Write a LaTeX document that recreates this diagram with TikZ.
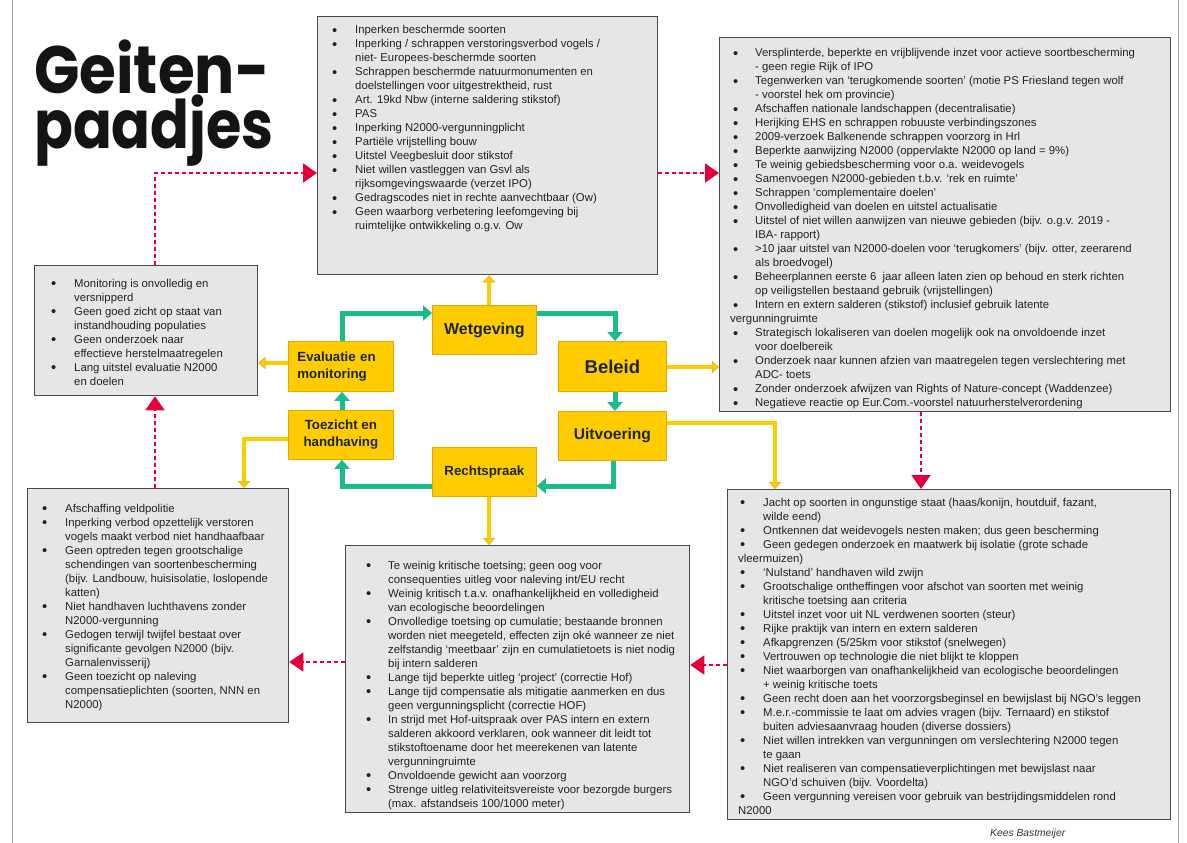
\documentclass[tikz,border=0pt]{standalone}
\usepackage{fontspec}
\setmainfont{Liberation Sans}
\newfontfamily\titlefont{Poppins}
\usetikzlibrary{arrows.meta}
\definecolor{ycol}{HTML}{FFCC00}
\definecolor{ydark}{HTML}{E3A900}
\definecolor{gcol}{HTML}{1ABC8C}
\definecolor{rcol}{HTML}{E5003C}
\definecolor{boxfill}{HTML}{E6E6E6}
\definecolor{boxline}{HTML}{4A4A4A}
\definecolor{txt}{HTML}{222222}
\definecolor{ytxt}{HTML}{1E2530}
\newlength\tind
\newcommand\bul[1]{\par\noindent\hangindent=\tind\hangafter=1\makebox[\tind][l]{\raisebox{-0.25ex}{\scalebox{1.3}{\textbullet}}}#1}
\newcommand\bulw[3]{\bul{#1}\par\noindent\hspace*{#3}#2}
\newcommand\boxtext[3]{\parbox[t]{#1}{\setlength\tind{#2}\raggedright\let\\\newline\setlength\parskip{0pt}\fontsize{11.35}{14}\selectfont#3}}
\tikzset{
  gbox/.style={draw=boxline, fill=boxfill, line width=1.3pt, inner sep=0pt, anchor=north west},
  btext/.style={anchor=base west, inner sep=0pt, text=txt},
  ybox/.style={draw=ydark, fill=ycol, line width=0.8pt, inner sep=0pt, anchor=north west, text=ytxt, font=\bfseries, align=center},
  yarr/.style={draw=ydark, line width=0.5pt, double=ycol, double distance=3.6pt, -{Triangle[width=12pt,length=7pt,fill=ycol]}},
  garr/.style={draw=gcol, line width=5pt, line join=miter, -{Triangle[width=15pt,length=9pt]}},
  rarr/.style={draw=rcol, line width=1.8pt, dash pattern=on 4pt off 3pt, -{Triangle[width=19pt,length=14pt]}},
  ttl/.style={anchor=base west, inner sep=0pt, text=black!92, font=\titlefont\bfseries\fontsize{67}{53}\selectfont}
}
\begin{document}
\begin{tikzpicture}[x=1pt,y=-1pt]
\path[use as bounding box] (0,0) rectangle (1187,843);
\fill[white] (0,0) rectangle (1187,843);
\draw[gray!70, line width=1pt] (12,0) -- (12,843);
\draw[gray!70, line width=1pt] (1178,0) -- (1178,843);

% title
\node[ttl] (title) at (34,93) {\parbox[t]{300pt}{\scalebox{0.89}[1]{Geiten-}\\\scalebox{0.855}[1]{paadjes}}};

% gray boxes
\node[gbox, minimum width=340pt, minimum height=258pt] (law) at (317,16) {};
\node[gbox, minimum width=451pt, minimum height=374pt] (pol) at (719,37) {};
\node[gbox, minimum width=223pt, minimum height=130pt] (mon) at (34,265) {};
\node[gbox, minimum width=261pt, minimum height=234pt] (enf) at (27,488) {};
\node[gbox, minimum width=344pt, minimum height=267pt] (jud) at (345,545) {};
\node[gbox, minimum width=443pt, minimum height=330pt] (exe) at (727,489) {};

\node[btext] (lawt) at (332,34) {\boxtext{320pt}{23pt}{%
\bul{Inperken beschermde soorten}
\bul{Inperking / schrappen verstoringsverbod vogels /\\niet- Europees-beschermde soorten}
\bul{Schrappen beschermde natuurmonumenten en\\doelstellingen voor uitgestrektheid, rust}
\bul{Art. 19kd Nbw (interne saldering stikstof)}
\bul{PAS}
\bul{Inperking N2000-vergunningplicht}
\bul{Partiële vrijstelling bouw}
\bul{Uitstel Veegbesluit door stikstof}
\bul{Niet willen vastleggen van Gsvl als\\rijksomgevingswaarde (verzet IPO)}
\bul{Gedragscodes niet in rechte aanvechtbaar (Ow)}
\bul{Geen waarborg verbetering leefomgeving bij\\ruimtelijke ontwikkeling o.g.v. Ow}}};

\node[btext] (polt) at (733,57) {\boxtext{430pt}{22pt}{%
\bul{Versplinterde, beperkte en vrijblijvende inzet voor actieve soortbescherming\\- geen regie Rijk of IPO}
\bul{Tegenwerken van ‘terugkomende soorten’ (motie PS Friesland tegen wolf\\- voorstel hek om provincie)}
\bul{Afschaffen nationale landschappen (decentralisatie)}
\bul{Herijking EHS en schrappen robuuste verbindingszones}
\bul{2009-verzoek Balkenende schrappen voorzorg in Hrl}
\bul{Beperkte aanwijzing N2000 (oppervlakte N2000 op land = 9\%)}
\bul{Te weinig gebiedsbescherming voor o.a. weidevogels}
\bul{Samenvoegen N2000-gebieden t.b.v. ‘rek en ruimte’}
\bul{Schrappen ‘complementaire doelen’}
\bul{Onvolledigheid van doelen en uitstel actualisatie}
\bul{Uitstel of niet willen aanwijzen van nieuwe gebieden (bijv. o.g.v. 2019 -\\IBA- rapport)}
\bul{>10 jaar uitstel van N2000-doelen voor ‘terugkomers’ (bijv. otter, zeerarend\\als broedvogel)}
\bul{Beheerplannen eerste 6\ \ jaar alleen laten zien op behoud en sterk richten\\op veiligstellen bestaand gebruik (vrijstellingen)}
\bulw{Intern en extern salderen (stikstof) inclusief gebruik latente}{vergunningruimte}{-3pt}
\bul{Strategisch lokaliseren van doelen mogelijk ook na onvoldoende inzet\\voor doelbereik}
\bul{Onderzoek naar kunnen afzien van maatregelen tegen verslechtering met\\ADC- toets}
\bul{Zonder onderzoek afwijzen van Rights of Nature-concept (Waddenzee)}
\bul{Negatieve reactie op Eur.Com.-voorstel natuurherstelverordening}}};

\node[btext] (mont) at (51,287) {\boxtext{200pt}{23pt}{%
\bul{Monitoring is onvolledig en\\versnipperd}
\bul{Geen goed zicht op staat van\\instandhouding populaties}
\bul{Geen onderzoek naar\\effectieve herstelmaatregelen}
\bul{Lang uitstel evaluatie N2000\\en doelen}}};

\node[btext] (enft) at (42,512) {\boxtext{240pt}{23pt}{%
\bul{Afschaffing veldpolitie}
\bul{Inperking verbod opzettelijk verstoren\\vogels maakt verbod niet handhaafbaar}
\bul{Geen optreden tegen grootschalige\\schendingen van soortenbescherming\\(bijv. Landbouw, huisisolatie, loslopende\\katten)}
\bul{Niet handhaven luchthavens zonder\\N2000-vergunning}
\bul{Gedogen terwijl twijfel bestaat over\\significante gevolgen N2000 (bijv.\\Garnalenvisserij)}
\bul{Geen toezicht op naleving\\compensatieplichten (soorten, NNN en\\N2000)}}};

\node[btext] (judt) at (366,569) {\boxtext{320pt}{22pt}{%
\bul{Te weinig kritische toetsing; geen oog voor\\consequenties uitleg voor naleving int/EU recht}
\bul{Weinig kritisch t.a.v. onafhankelijkheid en volledigheid\\van ecologische beoordelingen}
\bul{Onvolledige toetsing op cumulatie; bestaande bronnen\\worden niet meegeteld, effecten zijn oké wanneer ze niet\\zelfstandig ‘meetbaar’ zijn en cumulatietoets is niet nodig\\bij intern salderen}
\bul{Lange tijd beperkte uitleg ‘project’ (correctie Hof)}
\bul{Lange tijd compensatie als mitigatie aanmerken en dus\\geen vergunningsplicht (correctie HOF)}
\bul{In strijd met Hof-uitspraak over PAS intern en extern\\salderen akkoord verklaren, ook wanneer dit leidt tot\\stikstoftoename door het meerekenen van latente\\vergunningruimte}
\bul{Onvoldoende gewicht aan voorzorg}
\bul{Strenge uitleg relativiteitsvereiste voor bezorgde burgers\\(max. afstandseis 100/1000 meter)}}};

\node[btext] (exet) at (740,506) {\boxtext{425pt}{23pt}{%
\bul{Jacht op soorten in ongunstige staat (haas/konijn, houtduif, fazant,\\wilde eend)}
\bul{Ontkennen dat weidevogels nesten maken; dus geen bescherming}
\bulw{Geen gedegen onderzoek en maatwerk bij isolatie (grote schade}{vleermuizen)}{-2pt}
\bul{‘Nulstand’ handhaven wild zwijn}
\bul{Grootschalige ontheffingen voor afschot van soorten met weinig\\kritische toetsing aan criteria}
\bul{Uitstel inzet voor uit NL verdwenen soorten (steur)}
\bul{Rijke praktijk van intern en extern salderen}
\bul{Afkapgrenzen (5/25km voor stikstof (snelwegen)}
\bul{Vertrouwen op technologie die niet blijkt te kloppen}
\bul{Niet waarborgen van onafhankelijkheid van ecologische beoordelingen\\+ weinig kritische toets}
\bul{Geen recht doen aan het voorzorgsbeginsel en bewijslast bij NGO’s leggen}
\bul{M.e.r.-commissie te laat om advies vragen (bijv. Ternaard) en stikstof\\buiten adviesaanvraag houden (diverse dossiers)}
\bul{Niet willen intrekken van vergunningen om verslechtering N2000 tegen\\te gaan}
\bul{Niet realiseren van compensatieverplichtingen met bewijslast naar\\NGO’d schuiven (bijv. Voordelta)}
\bulw{Geen vergunning vereisen voor gebruik van bestrijdingsmiddelen rond}{N2000}{-2pt}}};

% yellow boxes
\node[ybox, minimum width=104pt, minimum height=49pt, font=\bfseries\fontsize{16}{18}\selectfont] (wet) at (432,305) {Wetgeving};
\node[ybox, minimum width=108pt, minimum height=50pt, font=\bfseries\fontsize{18.5}{20}\selectfont] (bel) at (558,341) {Beleid};
\node[ybox, minimum width=108pt, minimum height=49pt, font=\bfseries\fontsize{15.6}{18}\selectfont] (uit) at (558,411) {Uitvoering};
\node[ybox, minimum width=104pt, minimum height=49pt, font=\bfseries\fontsize{13.3}{17}\selectfont] (rec) at (432,447) {Rechtspraak};
\node[ybox, minimum width=105pt, minimum height=50pt, text width=87pt, align=left, font=\bfseries\fontsize{13.3}{17}\selectfont] (eva) at (288,341) {Evaluatie en\\monitoring};
\node[ybox, minimum width=105pt, minimum height=49pt, font=\bfseries\fontsize{13.3}{17}\selectfont] (toe) at (288,410) {Toezicht en\\handhaving};

% green cycle
\coordinate (g1) at (342,313);
\coordinate (g2) at (615,313);
\coordinate (g3) at (613,486);
\draw[garr] (eva.north -| g1) |- (wet.west |- g1);
\draw[garr] (wet.east |- g2) -| (bel.north -| g2);
\draw[garr] (bel.south -| g2) -- (uit.north -| g2);
\draw[garr] (uit.south -| g3) |- (rec.east |- g3);
\draw[garr] (rec.west |- g3) -| (toe.south -| g1);
\draw[garr] (toe.north -| g1) -- (eva.south -| g1);

% yellow connectors
\coordinate (xy1) at (489,0);
\coordinate (yy1) at (0,363);
\coordinate (yy2) at (0,367);
\coordinate (yc1) at (244,439);
\coordinate (yc2) at (775,423);
\draw[yarr] (wet.north -| xy1) -- (law.south -| xy1);
\draw[yarr] (rec.south -| xy1) -- (jud.north -| xy1);
\draw[yarr] (eva.west |- yy1) -- (mon.east |- yy1);
\draw[yarr] (bel.east |- yy2) -- (pol.west |- yy2);
\draw[yarr] (toe.west |- yc1) -| (enf.north -| yc1);
\draw[yarr] (uit.east |- yc2) -| (exe.north -| yc2);

% red dashed connectors
\coordinate (rc1) at (155,173);
\coordinate (rc2) at (921,0);
\coordinate (rc3) at (0,665);
\coordinate (rc4) at (0,662);
\draw[rarr] (mon.north -| rc1) |- (law.west |- rc1);
\draw[rarr] (law.east |- rc1) -- (pol.west |- rc1);
\draw[rarr] (pol.south -| rc2) -- (exe.north -| rc2);
\draw[rarr] (exe.west |- rc3) -- (jud.east |- rc3);
\draw[rarr] (jud.west |- rc4) -- (enf.east |- rc4);
\draw[rarr] (enf.north -| rc1) -- (mon.south -| rc1);

\node[anchor=base west, inner sep=0pt, font=\itshape\fontsize{10.3}{12}\selectfont, text=black!80] (author) at (990,836) {Kees Bastmeijer};
\end{tikzpicture}
\end{document}
